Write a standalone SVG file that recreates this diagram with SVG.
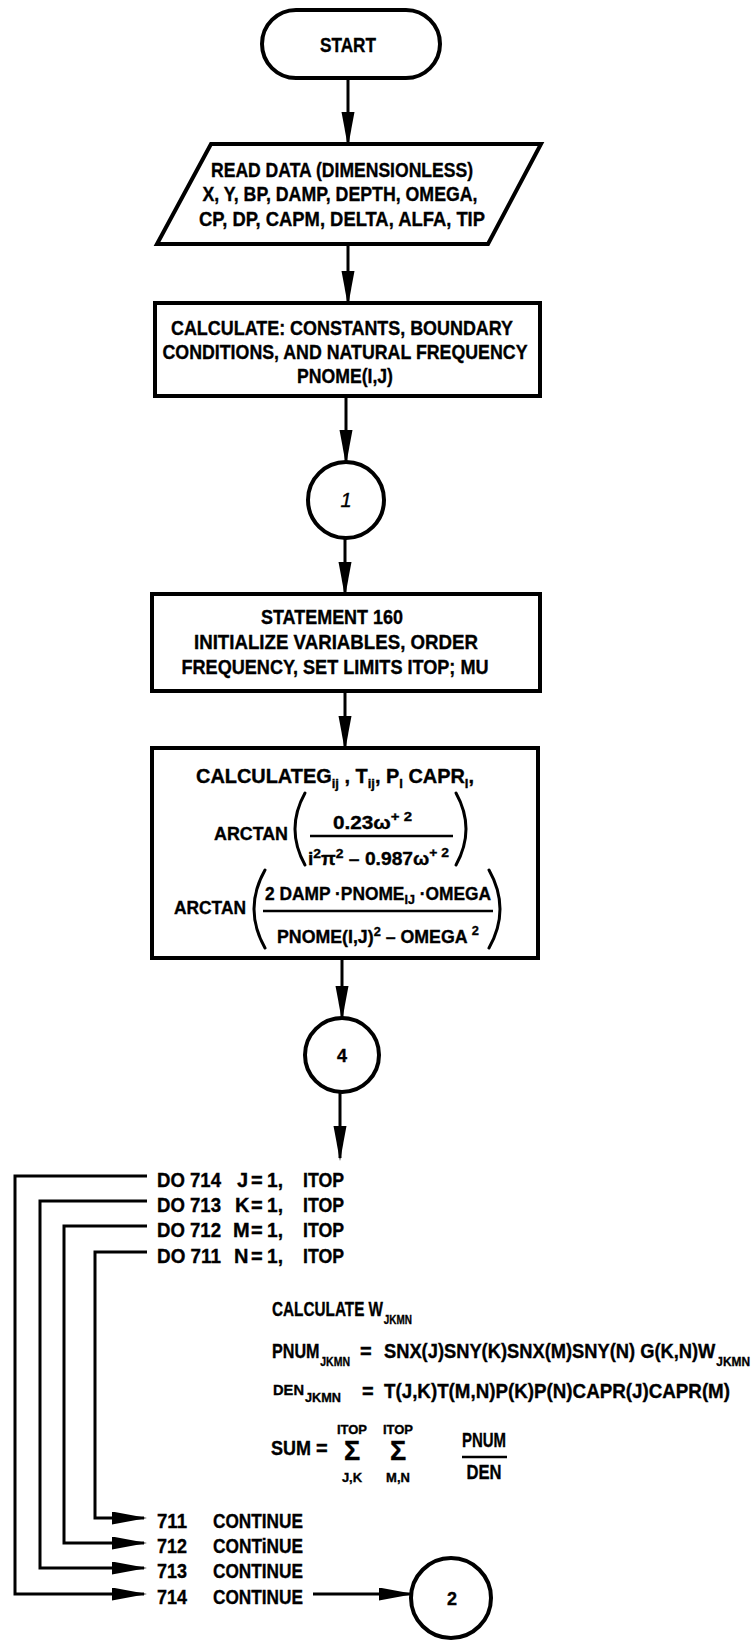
<svg xmlns="http://www.w3.org/2000/svg" width="752" height="1640" viewBox="0 0 752 1640">
<style>
.box{fill:#fff;stroke:#000;stroke-width:4}
.conn{fill:none;stroke:#000;stroke-width:3}
.paren{fill:none;stroke:#000;stroke-width:3;stroke-linecap:round}
.bar{stroke:#000;stroke-width:2.5}
.t{font-family:"Liberation Sans",Arial,sans-serif;font-weight:bold;font-size:20px;fill:#000;stroke:#000;stroke-width:0.35}
.f{font-size:18px}
.m{text-anchor:middle}
.sub{font-size:13px}
.sm{font-size:13px}
</style>
<defs>
<marker id="ah" markerUnits="userSpaceOnUse" markerWidth="38" markerHeight="14" refX="32" refY="6.5" orient="auto">
<path d="M0,0 L35,6.5 L0,13 z" fill="#000"/>
</marker>
</defs>
<rect width="752" height="1640" fill="#fff"/>

<g id="connectors">
<line class="conn" x1="348" y1="78" x2="348" y2="144" marker-end="url(#ah)"/>
<line class="conn" x1="348" y1="244" x2="348" y2="303" marker-end="url(#ah)"/>
<line class="conn" x1="346" y1="396" x2="346" y2="462" marker-end="url(#ah)"/>
<line class="conn" x1="345" y1="538" x2="345" y2="594" marker-end="url(#ah)"/>
<line class="conn" x1="345" y1="691" x2="345" y2="748" marker-end="url(#ah)"/>
<line class="conn" x1="342" y1="958" x2="342" y2="1018" marker-end="url(#ah)"/>
<line class="conn" x1="340" y1="1092" x2="340" y2="1158" marker-end="url(#ah)"/>
<polyline class="conn" points="147,1176 15,1176 15,1594 144,1594" marker-end="url(#ah)"/>
<polyline class="conn" points="147,1201 40,1201 40,1568 144,1568" marker-end="url(#ah)"/>
<polyline class="conn" points="147,1226 64,1226 64,1543 144,1543" marker-end="url(#ah)"/>
<polyline class="conn" points="147,1252 95,1252 95,1518 144,1518" marker-end="url(#ah)"/>
<line class="conn" x1="313" y1="1594" x2="411" y2="1594" marker-end="url(#ah)"/>
</g>

<g id="start">
<rect class="box" x="262" y="10" width="178" height="68" rx="34"/>
<text class="t m" x="348" y="52" style="font-size:21px" textLength="56" lengthAdjust="spacingAndGlyphs">START</text>
</g>

<g id="read-data">
<polygon class="box" points="211,144 541,144 488,244 157,244"/>
<text class="t m" x="342" y="177" textLength="262" lengthAdjust="spacingAndGlyphs">READ DATA (DIMENSIONLESS)</text>
<text class="t m" x="340" y="201" textLength="275" lengthAdjust="spacingAndGlyphs">X, Y, BP, DAMP, DEPTH, OMEGA,</text>
<text class="t m" x="342" y="226" textLength="286" lengthAdjust="spacingAndGlyphs">CP, DP, CAPM, DELTA, ALFA, TIP</text>
</g>

<g id="calc-constants">
<rect class="box" x="155" y="303" width="385" height="93"/>
<text class="t m" x="342" y="335" textLength="342" lengthAdjust="spacingAndGlyphs">CALCULATE:  CONSTANTS, BOUNDARY</text>
<text class="t m" x="345" y="359" textLength="365" lengthAdjust="spacingAndGlyphs">CONDITIONS, AND NATURAL FREQUENCY</text>
<text class="t m" x="345" y="383" textLength="96" lengthAdjust="spacingAndGlyphs">PNOME(I,J)</text>
</g>

<g id="connector-1">
<circle class="box" cx="346" cy="500" r="38"/>
<text class="t m" x="346" y="507" font-style="italic" style="font-weight:normal">1</text>
</g>

<g id="statement-160">
<rect class="box" x="152" y="594" width="388" height="97"/>
<text class="t m" x="332" y="624" textLength="142" lengthAdjust="spacingAndGlyphs">STATEMENT 160</text>
<text class="t m" x="336" y="649" textLength="284" lengthAdjust="spacingAndGlyphs">INITIALIZE VARIABLES, ORDER</text>
<text class="t m" x="335" y="674" textLength="307" lengthAdjust="spacingAndGlyphs">FREQUENCY, SET LIMITS ITOP; MU</text>
</g>

<g id="calc-g-t-p">
<rect class="box" x="152" y="748" width="386" height="210"/>
<text class="t" x="196" y="783" textLength="278" lengthAdjust="spacingAndGlyphs">CALCULATEG<tspan class="sub" dy="5">ij</tspan><tspan dy="-5"> , T</tspan><tspan class="sub" dy="5">ij</tspan><tspan dy="-5">, P</tspan><tspan class="sub" dy="5">I</tspan><tspan dy="-5"> CAPR</tspan><tspan class="sub" dy="5">I</tspan><tspan dy="-5">,</tspan></text>
<text class="t f" x="214" y="840" textLength="74" lengthAdjust="spacingAndGlyphs">ARCTAN</text>
<path class="paren" d="M305,793 Q285,829 305,865"/>
<text class="t f" x="333" y="829" textLength="79" lengthAdjust="spacingAndGlyphs">0.23ω<tspan class="sub" dy="-8">+ 2</tspan></text>
<line class="bar" x1="310" y1="836" x2="453" y2="836"/>
<text class="t f" x="308" y="865" textLength="141" lengthAdjust="spacingAndGlyphs">i<tspan class="sub" dy="-7">2</tspan><tspan dy="7">π</tspan><tspan class="sub" dy="-7">2</tspan><tspan dy="7"> – 0.987ω</tspan><tspan class="sub" dy="-8">+ 2</tspan></text>
<path class="paren" d="M456,793 Q476,829 456,865"/>
<text class="t f" x="174" y="914" textLength="72" lengthAdjust="spacingAndGlyphs">ARCTAN</text>
<path class="paren" d="M265,870 Q243,909 265,948"/>
<text class="t f" x="265" y="900" textLength="226" lengthAdjust="spacingAndGlyphs">2 DAMP ·PNOME<tspan class="sub" dy="4">IJ</tspan><tspan dy="-4"> ·OMEGA</tspan></text>
<line class="bar" x1="263" y1="911" x2="493" y2="911"/>
<text class="t f" x="277" y="943" textLength="202" lengthAdjust="spacingAndGlyphs">PNOME(I,J)<tspan class="sub" dy="-7">2</tspan><tspan dy="7"> – OMEGA </tspan><tspan class="sub" dy="-8">2</tspan></text>
<path class="paren" d="M489,870 Q511,909 489,948"/>
</g>

<g id="connector-4">
<circle class="box" cx="342" cy="1055" r="37"/>
<text class="t m" x="342" y="1062" style="font-size:18px">4</text>
</g>

<g id="do-loops">
<text class="t" x="157" y="1187" textLength="64" lengthAdjust="spacingAndGlyphs">DO 714</text>
<text class="t" x="237" y="1187">J</text>
<text class="t" x="251" y="1187">=</text>
<text class="t" x="267" y="1187" textLength="16" lengthAdjust="spacingAndGlyphs">1,</text>
<text class="t" x="303" y="1187" textLength="41" lengthAdjust="spacingAndGlyphs">ITOP</text>
<text class="t" x="157" y="1212" textLength="64" lengthAdjust="spacingAndGlyphs">DO 713</text>
<text class="t" x="235" y="1212">K</text>
<text class="t" x="251" y="1212">=</text>
<text class="t" x="267" y="1212" textLength="16" lengthAdjust="spacingAndGlyphs">1,</text>
<text class="t" x="303" y="1212" textLength="41" lengthAdjust="spacingAndGlyphs">ITOP</text>
<text class="t" x="157" y="1237" textLength="64" lengthAdjust="spacingAndGlyphs">DO 712</text>
<text class="t" x="233" y="1237">M</text>
<text class="t" x="251" y="1237">=</text>
<text class="t" x="267" y="1237" textLength="16" lengthAdjust="spacingAndGlyphs">1,</text>
<text class="t" x="303" y="1237" textLength="41" lengthAdjust="spacingAndGlyphs">ITOP</text>
<text class="t" x="157" y="1263" textLength="64" lengthAdjust="spacingAndGlyphs">DO 711</text>
<text class="t" x="234" y="1263">N</text>
<text class="t" x="251" y="1263">=</text>
<text class="t" x="267" y="1263" textLength="16" lengthAdjust="spacingAndGlyphs">1,</text>
<text class="t" x="303" y="1263" textLength="41" lengthAdjust="spacingAndGlyphs">ITOP</text>
</g>

<g id="calc-w">
<text class="t" x="272" y="1316" textLength="140" lengthAdjust="spacingAndGlyphs">CALCULATE  W<tspan class="sub" dx="1" dy="8">JKMN</tspan></text>
<text class="t" x="272" y="1358" textLength="78" lengthAdjust="spacingAndGlyphs">PNUM<tspan class="sub" dx="1" dy="8">JKMN</tspan></text>
<text class="t" x="360" y="1358">=</text>
<text class="t" x="384" y="1358" textLength="366" lengthAdjust="spacingAndGlyphs">SNX(J)SNY(K)SNX(M)SNY(N) G(K,N)W<tspan class="sub" dx="1" dy="8">JKMN</tspan></text>
<text class="t" x="273" y="1395" style="font-size:15px" textLength="68" lengthAdjust="spacingAndGlyphs">DEN<tspan class="sub" dx="1" dy="7">JKMN</tspan></text>
<text class="t" x="362" y="1398">=</text>
<text class="t" x="384" y="1398" textLength="346" lengthAdjust="spacingAndGlyphs">T(J,K)T(M,N)P(K)P(N)CAPR(J)CAPR(M)</text>
<text class="t" x="271" y="1455" textLength="40" lengthAdjust="spacingAndGlyphs">SUM</text>
<text class="t" x="316" y="1455">=</text>
<text class="t m sm" x="352" y="1434">ITOP</text>
<text class="t m" x="352" y="1460" style="font-size:27px">Σ</text>
<text class="t m sm" x="352" y="1482">J,K</text>
<text class="t m sm" x="398" y="1434">ITOP</text>
<text class="t m" x="398" y="1460" style="font-size:27px">Σ</text>
<text class="t m sm" x="398" y="1482">M,N</text>
<text class="t m" x="484" y="1447" textLength="44" lengthAdjust="spacingAndGlyphs">PNUM</text>
<line class="bar" x1="462" y1="1457" x2="507" y2="1457"/>
<text class="t m" x="484" y="1479" textLength="35" lengthAdjust="spacingAndGlyphs">DEN</text>
</g>

<g id="continues">
<text class="t" x="157" y="1528" textLength="30" lengthAdjust="spacingAndGlyphs">711</text>
<text class="t" x="213" y="1528" textLength="90" lengthAdjust="spacingAndGlyphs">CONTINUE</text>
<text class="t" x="157" y="1553" textLength="30" lengthAdjust="spacingAndGlyphs">712</text>
<text class="t" x="213" y="1553" textLength="90" lengthAdjust="spacingAndGlyphs">CONTiNUE</text>
<text class="t" x="157" y="1578" textLength="30" lengthAdjust="spacingAndGlyphs">713</text>
<text class="t" x="213" y="1578" textLength="90" lengthAdjust="spacingAndGlyphs">CONTINUE</text>
<text class="t" x="157" y="1604" textLength="30" lengthAdjust="spacingAndGlyphs">714</text>
<text class="t" x="213" y="1604" textLength="90" lengthAdjust="spacingAndGlyphs">CONTINUE</text>
</g>

<g id="connector-2">
<circle class="box" cx="451" cy="1598" r="40"/>
<text class="t m" x="452" y="1605" style="font-size:18px">2</text>
</g>
</svg>
